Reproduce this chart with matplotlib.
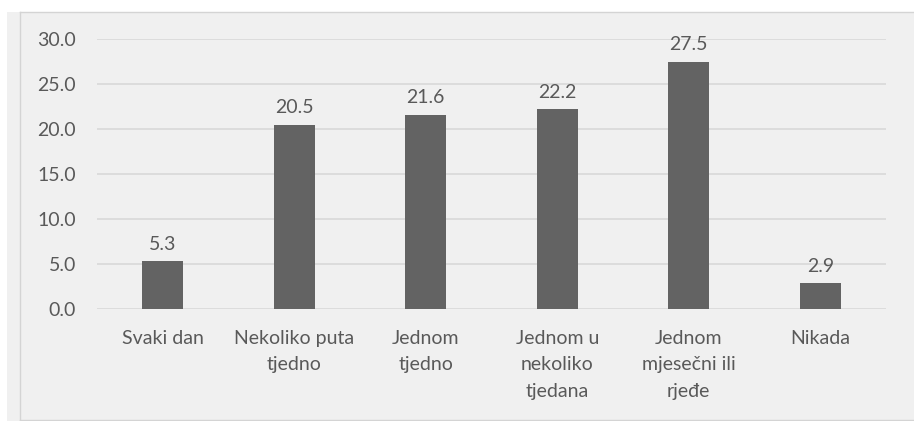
import matplotlib.pyplot as plt
from matplotlib.patches import Rectangle
from matplotlib.lines import Line2D

# Data
categories = ['Svaki dan', 'Nekoliko puta\ntjedno', 'Jednom\ntjedno',
              'Jednom u\nnekoliko\ntjedana', 'Jednom\nmjesečni ili\nrjeđe',
              'Nikada']
values = [5.3, 20.5, 21.6, 22.2, 27.5, 2.9]
yticks = [0, 5, 10, 15, 20, 25, 30]

W, H = 914, 421
text_col = '#595959'
grid_col = '#d9d9d9'
bg = '#f0f0f0'

plt.rcParams['font.family'] = ['Lato', 'DejaVu Sans']

fig = plt.figure(figsize=(W / 100, H / 100), dpi=100, facecolor='white')

# chart area background and borders (cropped screenshot look)
fig.patches.append(Rectangle((7 / W, 0), 1, (H - 12) / H,
                             transform=fig.transFigure, facecolor=bg,
                             edgecolor='none', zorder=-2))
for xs, ys in [([20 / W, 20 / W], [0, (H - 12) / H]),
               ([20 / W, 1], [(H - 12) / H, (H - 12) / H]),
               ([20 / W, 1], [1.5 / H, 1.5 / H])]:
    fig.lines.append(Line2D(xs, ys, transform=fig.transFigure,
                            color='#d4d4d4', lw=1, zorder=-1))

ax = fig.add_axes([97 / W, 112 / H, 789 / W, 270 / H])
ax.set_facecolor('none')
ax.set_zorder(1)

x = range(len(categories))
ax.bar(x, values, width=0.31, color='#636363', zorder=3)
for i, v in enumerate(values):
    ax.annotate(f'{v:.1f}', (i, v), xytext=(0, 6), textcoords='offset points',
                ha='center', va='bottom', fontsize=14, color=text_col,
                annotation_clip=False)

ax.set_xlim(-0.5, len(categories) - 0.5)
ax.set_ylim(0, 30)
ax.set_yticks(yticks)
ax.set_yticklabels([f'{t:.1f}' for t in yticks])
ax.set_xticks(list(x))
ax.set_xticklabels(categories, linespacing=1.68)
ax.tick_params(axis='both', length=0, labelsize=14, colors=text_col)
ax.tick_params(axis='y', pad=15)
ax.tick_params(axis='x', pad=15)
ax.grid(axis='y', color=grid_col, lw=1.2, zorder=0)
for s in ax.spines.values():
    s.set_visible(False)

plt.savefig('out.png', dpi=100, facecolor=fig.get_facecolor())
